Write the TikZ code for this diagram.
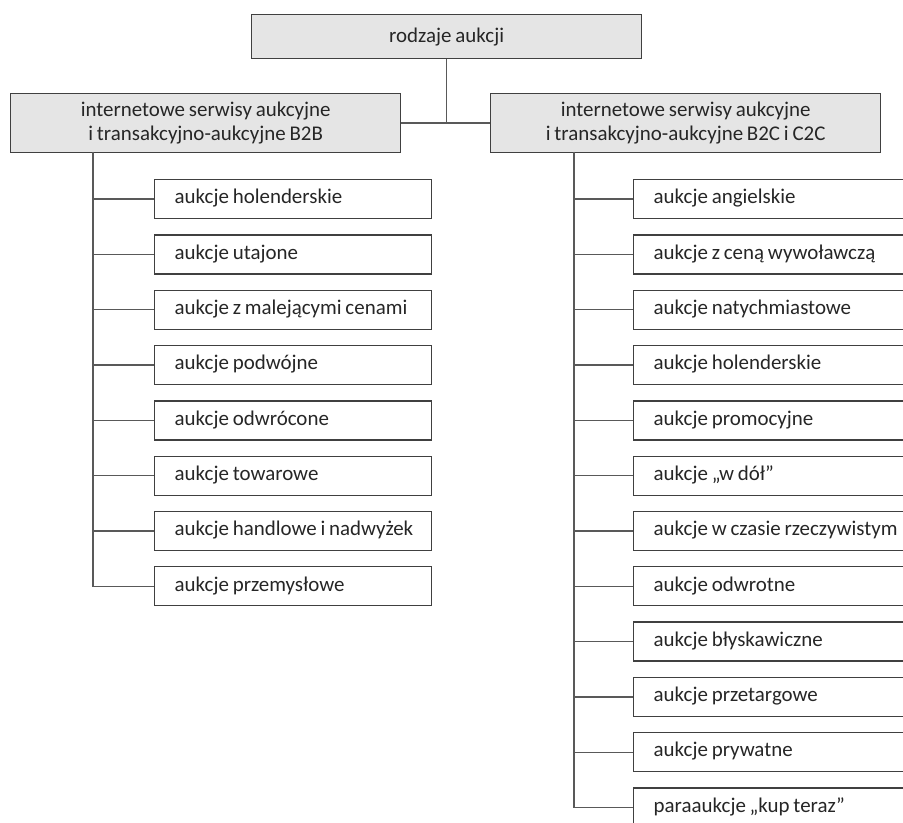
\documentclass[tikz,border=0pt]{standalone}
\usepackage{fontspec}
\setmainfont{Carlito}[WordSpace=0.8]
\begin{document}
\begin{tikzpicture}[x=0.75pt,y=-0.75pt,
  line width=1pt,
  every node/.style={font=\fontsize{15.7pt}{18pt}\selectfont, text=black!85},
  headbox/.style={draw=black!75, fill=black!10, minimum width=292.5pt,
    inner sep=0pt, align=center, anchor=north west},
  leafbox/.style={draw=black!75, fill=white, minimum width=207.75pt, minimum height=29.25pt,
    inner xsep=15pt, inner ysep=0pt, anchor=north west},
  link/.style={draw=black!65}]
\useasboundingbox (0,0) rectangle (903,823);
\clip (0,0) rectangle (903,823);

% root and the two groups
\node[headbox, minimum height=33pt] (root) at (251,14) {rodzaje aukcji};
\node[headbox, minimum height=44.25pt] (b2b) at (10,93)
  {internetowe serwisy aukcyjne\\i transakcyjno-aukcyjne B2B};
\node[headbox, minimum height=44.25pt] (b2c) at (490,93)
  {internetowe serwisy aukcyjne\\i transakcyjno-aukcyjne B2C i C2C};

\draw[link] (root.south) -- (root.south |- b2b.east);
\draw[link] (b2b.east) -- (b2c.west);

% B2B leaves
\coordinate (lspine) at (93,152);
\foreach \t [count=\i] in {aukcje holenderskie, aukcje utajone,
    aukcje z malejącymi cenami, aukcje podwójne, aukcje odwrócone,
    aukcje towarowe, aukcje handlowe i nadwyżek, aukcje przemysłowe}{
  \node[leafbox] (l\i) at (154,{179+55.3*(\i-1)}) {\makebox[177.75pt][l]{\strut\t}};
  \draw[link] (l\i.west -| lspine) -- (l\i.west);
}
\draw[link] (lspine) |- (l8.west);

% B2C / C2C leaves
\coordinate (rspine) at (574,152);
\foreach \t [count=\i] in {aukcje angielskie, aukcje z ceną wywoławczą,
    aukcje natychmiastowe, aukcje holenderskie, aukcje promocyjne,
    aukcje „w dół”, aukcje w czasie rzeczywistym, aukcje odwrotne,
    aukcje błyskawiczne, aukcje przetargowe, aukcje prywatne,
    paraaukcje „kup teraz”}{
  \node[leafbox] (r\i) at (633,{179+55.3*(\i-1)}) {\makebox[177.75pt][l]{\strut\t}};
  \draw[link] (r\i.west -| rspine) -- (r\i.west);
}
\draw[link] (rspine) |- (r12.west);
\end{tikzpicture}
\end{document}
